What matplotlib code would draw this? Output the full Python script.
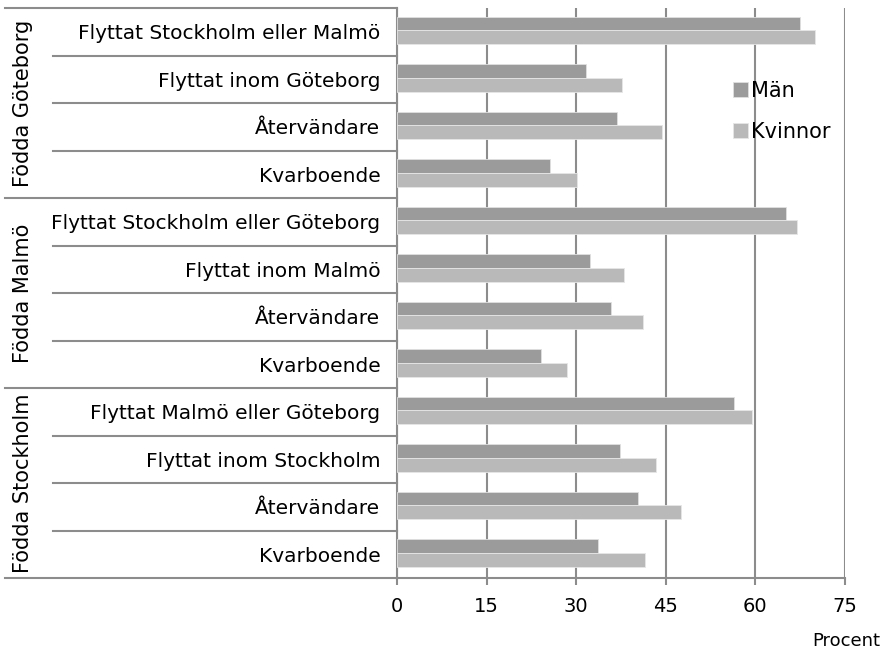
import numpy as np
import matplotlib
matplotlib.use("Agg")
import matplotlib.pyplot as plt

plt.rcParams['font.family'] = ['DejaVu Sans']

# kategorier uppifrån och ned
groups = ["Födda Göteborg", "Födda Malmö", "Födda Stockholm"]
categories = [
    "Flyttat Stockholm eller Malmö", "Flyttat inom Göteborg", "Återvändare", "Kvarboende",
    "Flyttat Stockholm eller Göteborg", "Flyttat inom Malmö", "Återvändare", "Kvarboende",
    "Flyttat Malmö eller Göteborg", "Flyttat inom Stockholm", "Återvändare", "Kvarboende",
]
man = [67.4, 31.6, 36.9, 25.6, 65.2, 32.3, 35.8, 24.1, 56.4, 37.3, 40.4, 33.7]
kvinnor = [69.9, 37.6, 44.3, 30.2, 67.0, 38.0, 41.2, 28.4, 59.5, 43.3, 47.5, 41.5]
xticks = [0, 15, 30, 45, 60, 75]

fig = plt.figure(figsize=(8.93, 6.53), dpi=100)
ax = fig.add_axes([397/893, 1-578/653, 448/893, 570/653])

n = len(categories)
y = np.arange(n)
h = 0.29
grid_c = "#8c8c8c"
ax.barh(y - h/2 - 0.03, man, height=h, color="#9b9b9b", edgecolor="#e0e0e0", linewidth=0.6, label="Män", zorder=3)
ax.barh(y + h/2 - 0.03, kvinnor, height=h, color="#b9b9b9", edgecolor="#e6e6e6", linewidth=0.6, label="Kvinnor", zorder=3)

ax.set_ylim(n - 0.5, -0.5)
ax.set_xlim(0, 75)
ax.set_xticks(xticks)
ax.set_xticklabels([str(t) for t in xticks], fontsize=14)
ax.tick_params(axis='x', length=5, width=1.5, color=grid_c, pad=9)
ax.set_yticks(y)
ax.set_yticklabels(categories, fontsize=14.5)
ax.tick_params(axis='y', length=0, pad=12)
ax.grid(axis='x', color=grid_c, linewidth=1.5, zorder=0)
for s in ["top", "right"]:
    ax.spines[s].set_visible(False)
for s in ["left", "bottom"]:
    ax.spines[s].set_color(grid_c)
    ax.spines[s].set_linewidth(1.5)

# tabellinjer till vänster
trans = ax.get_yaxis_transform()
x_outer = (5 - 397) / 448
x_inner = (53 - 397) / 448
for b in np.arange(-0.5, n, 1.0):
    if b in (-0.5, 3.5, 7.5, 11.5):
        x0 = x_outer
    else:
        x0 = x_inner
    ax.plot([x0, 0], [b, b], color=grid_c, linewidth=1.5, transform=trans, clip_on=False, zorder=1)

for i, g in enumerate(groups):
    ax.text((23 - 397) / 448, 4 * i + 1.5, g, rotation=90, ha='center', va='center',
            fontsize=15, transform=trans)

ax.legend(loc='upper left', bbox_to_anchor=(0.75, 0.872), frameon=False, fontsize=15,
          handlelength=0.7, handleheight=0.7, handletextpad=0.15, labelspacing=1.0,
          borderaxespad=0, borderpad=0)

fig.text(846/893, 1 - 641/653, "Procent", ha='center', va='center', fontsize=13)

fig.savefig("out.png", dpi=100)
